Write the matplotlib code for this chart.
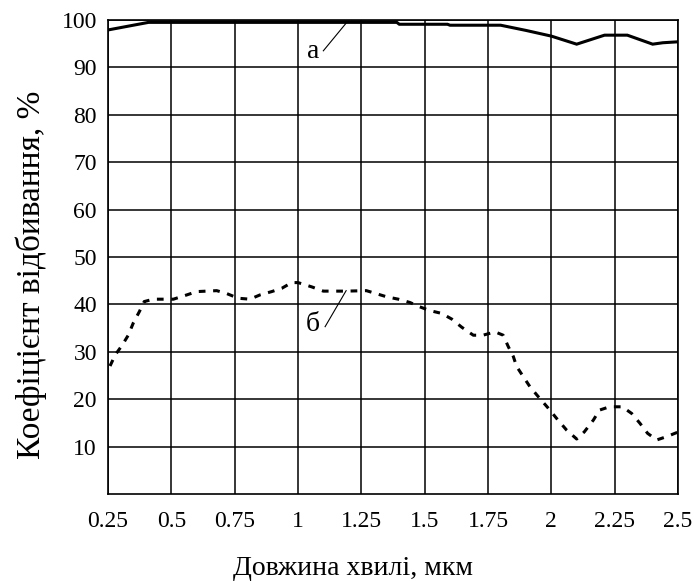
import matplotlib.pyplot as plt

plt.rcParams['font.family'] = ['Liberation Serif', 'DejaVu Serif']

# curve "а" (solid)
wl_a = [0.25, 0.30, 0.35, 0.41, 0.60, 0.80, 1.00, 1.20, 1.39, 1.40, 1.59, 1.60,
        1.80, 1.90, 2.00, 2.10, 2.21, 2.30, 2.40, 2.44, 2.50]
refl_a = [97.9, 98.4, 98.9, 99.5, 99.5, 99.5, 99.5, 99.5, 99.5, 99.1, 99.1, 98.9,
          98.9, 97.8, 96.6, 94.9, 96.8, 96.8, 94.9, 95.2, 95.4]

# curve "б" (dashed)
wl_b = [0.258, 0.278, 0.306, 0.33, 0.35, 0.374, 0.393, 0.429, 0.508, 0.561, 0.60,
        0.679, 0.718, 0.764, 0.81, 0.85, 0.896, 0.936, 0.975, 1.0, 1.054, 1.10,
        1.19, 1.27, 1.35, 1.396, 1.442, 1.48, 1.52, 1.567, 1.607, 1.646, 1.692,
        1.73, 1.778, 1.81, 1.83, 1.85, 1.863, 1.89, 1.916, 1.949, 1.988, 2.02,
        2.06, 2.10, 2.13, 2.166, 2.19, 2.23, 2.28, 2.317, 2.35, 2.38, 2.416,
        2.455, 2.497]
refl_b = [27.0, 29.3, 31.4, 33.5, 36.1, 38.5, 40.6, 41.1, 41.1, 42.0, 42.7,
          42.9, 42.3, 41.3, 41.1, 42.0, 42.7, 43.4, 44.6, 44.6, 43.7, 42.8,
          42.8, 42.9, 41.6, 41.1, 40.4, 39.5, 38.7, 38.1, 36.9, 35.2, 33.5,
          33.5, 34.2, 33.5, 31.1, 29.0, 26.9, 24.7, 22.6, 20.5, 18.1, 16.0,
          13.5, 11.6, 13.1, 15.6, 17.7, 18.4, 18.4, 17.0, 14.9, 12.8, 11.4,
          12.1, 13.0]

x_ticks = [0.25, 0.5, 0.75, 1, 1.25, 1.5, 1.75, 2, 2.25, 2.5]
x_labels = ['0.25', '0.5', '0.75', '1', '1.25', '1.5', '1.75', '2', '2.25', '2.5']
y_ticks = [10, 20, 30, 40, 50, 60, 70, 80, 90, 100]

fig = plt.figure(figsize=(6.94, 5.81), dpi=100)
ax = fig.add_axes([108/694, 1 - 494/581, 570/694, 474/581])

ax.plot(wl_a, refl_a, color='black', lw=2.2, solid_joinstyle='miter')
ax.plot(wl_b, refl_b, color='black', lw=2.2, linestyle=(0, (2.2, 2.5)))

# labels with leader lines
ax.text(1.06, 93.3, 'а', fontsize=20, ha='center', va='center')
ax.plot([1.10, 1.194], [93.5, 99.6], color='black', lw=0.8)
ax.text(1.06, 35.7, 'б', fontsize=20, ha='center', va='center')
ax.plot([1.107, 1.19], [35.3, 42.9], color='black', lw=0.8)

ax.set_xlim(0.25, 2.5)
ax.set_ylim(0, 100)
ax.set_xticks(x_ticks)
ax.set_xticklabels(x_labels)
ax.set_yticks(y_ticks)
ax.grid(True, color='black', lw=1.1)
ax.set_axisbelow(True)
ax.tick_params(length=0, labelsize=17)
ax.tick_params(axis='x', pad=12)
ax.tick_params(axis='y', pad=8)
for s in ax.spines.values():
    s.set_linewidth(1.2)

ax.set_xlabel('Довжина хвилі, мкм', fontsize=20)
ax.xaxis.set_label_coords(0.43, -0.13)
ax.set_ylabel('Коефіцієнт відбивання, %', fontsize=24)
ax.yaxis.set_label_coords(-0.107, 0.462)

fig.savefig('out.png', dpi=100)
